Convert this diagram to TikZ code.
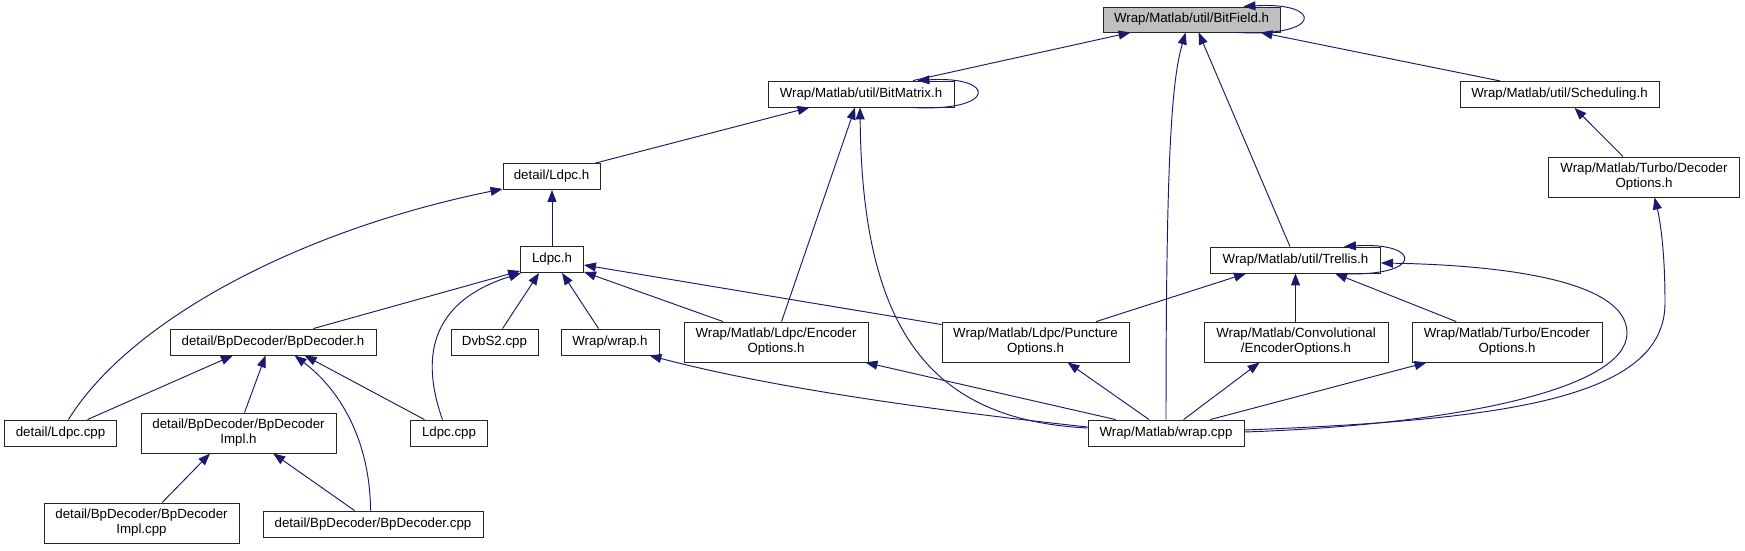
\documentclass[tikz,border=0pt]{standalone}
\usepackage{fontspec}
\setmainfont{Liberation Sans}
\usetikzlibrary{arrows.meta,calc}
\definecolor{edgeblue}{HTML}{191970}
\definecolor{boxgray}{HTML}{BFBFBF}
\begin{document}
\begin{tikzpicture}[x=1pt,y=-1pt,
  box/.style={draw=black!85, line width=0.9pt, fill=white, inner sep=0pt, align=center,
    font=\fontsize{13.3}{15}\selectfont},
  edge/.style={draw=edgeblue, line width=0.95pt, -{Triangle[length=12pt,width=9pt]}},
]
\useasboundingbox (0,0) rectangle (1745,550);
% nodes
\node[box, fill=boxgray, minimum width=177pt, minimum height=25pt] (bitfield) at (1191.5,19.5) {Wrap/Matlab/util/BitField.h};
\node[box, minimum width=186pt, minimum height=26pt] (bitmatrix) at (861,94) {Wrap/Matlab/util/BitMatrix.h};
\node[box, minimum width=199pt, minimum height=26pt] (scheduling) at (1559.5,94.5) {Wrap/Matlab/util/Scheduling.h};
\node[box, minimum width=97pt, minimum height=26pt] (ldpch) at (551.5,176.5) {detail/Ldpc.h};
\node[box, minimum width=191pt, minimum height=40pt] (turbodec) at (1644,177) {Wrap/Matlab/Turbo/Decoder\\Options.h};
\node[box, minimum width=63pt, minimum height=26pt] (ldpc) at (552,259.5) {Ldpc.h};
\node[box, minimum width=170pt, minimum height=26pt] (trellis) at (1295.5,260) {Wrap/Matlab/util/Trellis.h};
\node[box, minimum width=206pt, minimum height=26pt] (bpdech) at (273,342) {detail/BpDecoder/BpDecoder.h};
\node[box, minimum width=87pt, minimum height=26pt] (dvbs2) at (494.5,342) {DvbS2.cpp};
\node[box, minimum width=98pt, minimum height=26pt] (wraph) at (610,342) {Wrap/wrap.h};
\node[box, minimum width=184pt, minimum height=40pt] (ldpcenc) at (776,342) {Wrap/Matlab/Ldpc/Encoder\\Options.h};
\node[box, minimum width=187pt, minimum height=40pt] (punct) at (1035.5,342) {Wrap/Matlab/Ldpc/Puncture\\Options.h};
\node[box, minimum width=184pt, minimum height=40pt] (conv) at (1296,342) {Wrap/Matlab/Convolutional\\/EncoderOptions.h};
\node[box, minimum width=190pt, minimum height=40pt] (turboenc) at (1507,342) {Wrap/Matlab/Turbo/Encoder\\Options.h};
\node[box, minimum width=112pt, minimum height=26pt] (ldpccppd) at (60.5,433) {detail/Ldpc.cpp};
\node[box, minimum width=195pt, minimum height=40pt] (bpimplh) at (238.5,433) {detail/BpDecoder/BpDecoder\\Impl.h};
\node[box, minimum width=77pt, minimum height=26pt] (ldpccpp) at (449,433) {Ldpc.cpp};
\node[box, minimum width=156pt, minimum height=26pt] (wrapcpp) at (1166,433) {Wrap/Matlab/wrap.cpp};
\node[box, minimum width=195pt, minimum height=40pt] (bpimplcpp) at (141.5,523) {detail/BpDecoder/BpDecoder\\Impl.cpp};
\node[box, minimum width=220pt, minimum height=26pt] (bpdeccpp) at (373,524) {detail/BpDecoder/BpDecoder.cpp};
% self loops
\draw[edge] ($(bitfield.south east)+(-43,0)$) .. controls ($(bitfield.south east)+(43,5)$) and ($(bitfield.north east)+(43,-5)$) .. ($(bitfield.north east)+(-37,0)$);
\draw[edge] ($(bitmatrix.south east)+(-43,0)$) .. controls ($(bitmatrix.south east)+(43,5)$) and ($(bitmatrix.north east)+(43,-5)$) .. ($(bitmatrix.north east)+(-37,0)$);
\draw[edge] ($(trellis.south east)+(-43,0)$) .. controls ($(trellis.south east)+(43,5)$) and ($(trellis.north east)+(43,-5)$) .. ($(trellis.north east)+(-37,0)$);
% edges into BitField
\draw[edge] ($(bitmatrix.north)+(52,0)$) -- ($(bitfield.south west)+(28,0)$);
\draw[edge] (wrapcpp.north) .. controls (1166,150) and (1172,80) .. ($(bitfield.south west)+(83,0)$);
\draw[edge] ($(trellis.north)+(-5.5,0)$) -- ($(bitfield.south west)+(96,0)$);
\draw[edge] ($(scheduling.north west)+(41,0)$) -- ($(bitfield.south east)+(-20,0)$);
% edges into BitMatrix
\draw[edge] ($(ldpch.north east)+(-5,0)$) -- ($(bitmatrix.south west)+(42,0)$);
\draw[edge] ($(ldpcenc.north west)+(98,0)$) -- ($(bitmatrix.south west)+(87.5,0)$);
\draw[edge] ($(wrapcpp.west)+(0,-5)$) .. controls (930,420) and (862,330) .. ($(bitmatrix.south west)+(92.5,0)$);
% Scheduling / Turbo decoder
\draw[edge] ($(turbodec.north west)+(75,0)$) -- ($(scheduling.south west)+(115,0)$);
\draw[edge] ($(wrapcpp.east)+(0,-3)$) .. controls (1500,420) and (1665,400) .. (1665,303) .. controls (1665,250) and (1660,220) .. ($(turbodec.south west)+(106.5,0)$);
% edges into Trellis
\draw[edge] ($(punct.north west)+(154.6,0)$) -- ($(trellis.south west)+(36,0)$);
\draw[edge] (conv.north -| trellis.south) -- (trellis.south);
\draw[edge] ($(turboenc.north west)+(44.6,0)$) -- ($(trellis.south west)+(125,0)$);
\draw[edge] ($(wrapcpp.east)+(0,-1)$) .. controls (1450,425) and (1627,390) .. (1627,333) .. controls (1627,280) and (1500,265) .. ($(trellis.east)+(0,3)$);
% edges from wrap.cpp to row 5
\draw[edge] ($(wrapcpp.west)+(0,-6)$) .. controls (950,412) and (780,390) .. ($(wraph.south east)+(-10,0)$);
\draw[edge] ($(wrapcpp.north west)+(28,0)$) -- ($(ldpcenc.south east)+(-3,0)$);
\draw[edge] ($(wrapcpp.north west)+(61.5,0)$) -- ($(punct.south west)+(126,0)$);
\draw[edge] ($(wrapcpp.north west)+(96,0)$) -- ($(conv.south west)+(56,0)$);
\draw[edge] ($(wrapcpp.north west)+(122.7,0)$) -- ($(turboenc.south west)+(15,0)$);
% edges into detail/Ldpc.h
\draw[edge] (ldpc.north) -- (ldpc.north |- ldpch.south);
\draw[edge] ($(ldpccppd.north west)+(64.4,0)$) .. controls (130,320) and (300,230) .. ($(ldpch.south west)+(0,-1)$);
% edges into Ldpc.h
\draw[edge] ($(bpdech.north west)+(143.8,0)$) -- ($(ldpc.south west)+(0,-2)$);
\draw[edge] ($(ldpccpp.north west)+(32.4,0)$) .. controls (425,370) and (420,305) .. ($(ldpc.south west)+(1,0)$);
\draw[edge] ($(dvbs2.north west)+(52,0)$) -- ($(ldpc.south west)+(19,0)$);
\draw[edge] ($(wraph.north west)+(38,0)$) -- ($(ldpc.south west)+(42,0)$);
\draw[edge] ($(ldpcenc.north west)+(39.5,0)$) -- ($(ldpc.south east)+(0,-1)$);
\draw[edge] ($(punct.north west)+(0,3)$) -- ($(ldpc.east)+(0,5.5)$);
% edges into BpDecoder.h
\draw[edge] ($(ldpccppd.north west)+(83.4,0)$) -- ($(bpdech.south west)+(63.4,0)$);
\draw[edge] ($(bpimplh.north west)+(104,0)$) -- ($(bpdech.south west)+(96,0)$);
\draw[edge] ($(bpdeccpp.north west)+(108,0)$) .. controls (370,440) and (340,390) .. ($(bpdech.south west)+(125,0)$);
\draw[edge] ($(ldpccpp.north west)+(14.4,0)$) -- ($(bpdech.south west)+(135,0)$);
% edges into BpDecoderImpl.h
\draw[edge] ($(bpimplcpp.north west)+(118.6,0)$) -- ($(bpimplh.south west)+(69.5,0)$);
\draw[edge] ($(bpdeccpp.north west)+(92,0)$) -- ($(bpimplh.south west)+(132.6,0)$);
\end{tikzpicture}
\end{document}
